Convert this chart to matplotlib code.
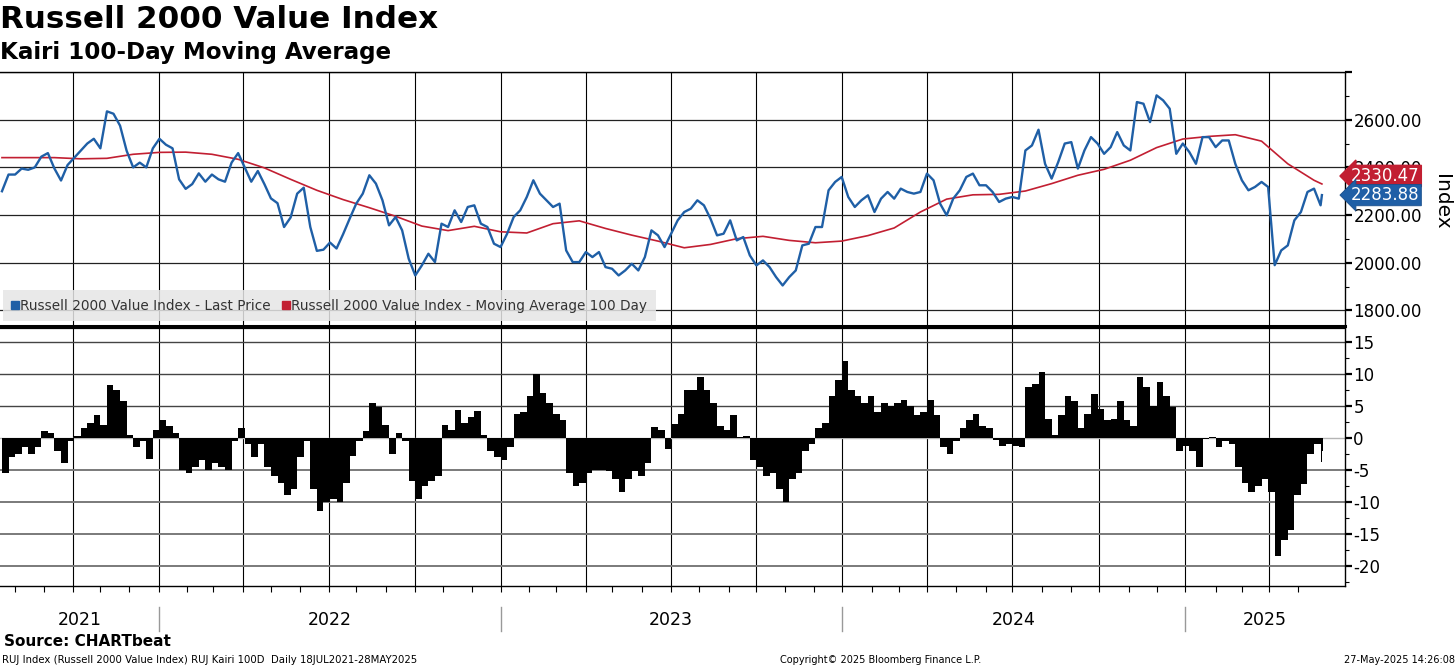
import matplotlib
matplotlib.use("Agg")
import matplotlib.pyplot as plt
import matplotlib.transforms as mtransforms
from matplotlib.lines import Line2D
from matplotlib.ticker import FixedLocator, MultipleLocator, FuncFormatter
import numpy as np
import pandas as pd

plt.rcParams["font.family"] = ["DejaVu Sans"]
plt.rcParams["axes.unicode_minus"] = False

# ---- data (weekly samples, last point = 27 May 2025) ----
start_date = "2021-07-19"
end_date = "2025-05-27"

price_weekly = [
    2300, 2370, 2370, 2395, 2390, 2400, 2445, 2460, 2395, 2345,
    2410, 2440, 2470, 2500, 2520, 2480, 2635, 2625, 2575, 2470,
    2400, 2420, 2400, 2480, 2520, 2495, 2480, 2350, 2310, 2330,
    2375, 2340, 2370, 2350, 2340, 2420, 2460, 2400, 2340, 2385,
    2330, 2270, 2250, 2150, 2190, 2290, 2315, 2150, 2050, 2055,
    2085, 2060, 2120, 2185, 2248, 2290, 2367, 2332, 2262, 2157,
    2192, 2136, 2017, 1947, 1989, 2038, 2003, 2164, 2150, 2220,
    2171, 2234, 2241, 2164, 2150, 2080, 2066, 2122, 2192, 2220,
    2276, 2346, 2290, 2262, 2234, 2248, 2052, 2003, 2003, 2045,
    2024, 2045, 1982, 1975, 1947, 1968, 1996, 1968, 2024, 2136,
    2115, 2066, 2122, 2178, 2213, 2227, 2262, 2241, 2185, 2115,
    2122, 2178, 2094, 2108, 2031, 1989, 2010, 1982, 1940, 1905,
    1940, 1968, 2073, 2080, 2150, 2150, 2304, 2339, 2360, 2276,
    2234, 2262, 2283, 2213, 2269, 2297, 2269, 2311, 2297, 2290,
    2297, 2374, 2346, 2248, 2199, 2269, 2304, 2360, 2374, 2325,
    2325, 2297, 2255, 2269, 2276, 2269, 2471, 2492, 2558, 2415,
    2353, 2422, 2500, 2506, 2395, 2471, 2527, 2500, 2457, 2485,
    2548, 2492, 2471, 2674, 2667, 2590, 2702, 2681, 2646, 2457,
    2500, 2464, 2415, 2527, 2527, 2485, 2513, 2513, 2415, 2346,
    2304, 2318, 2339, 2318, 1990, 2052, 2073, 2178, 2213, 2297,
    2311, 2241,
]
price_last = 2283.88

# 100-day moving average, sampled every 4 weeks
ma_4weekly = [
    2441, 2441, 2441, 2436, 2438, 2455, 2463, 2464, 2455, 2434, 2398, 2350, 2304,
    2265, 2231, 2195, 2154, 2135, 2153, 2130, 2125, 2164, 2176, 2144, 2116, 2091,
    2063, 2077, 2101, 2111, 2094, 2084, 2091, 2114, 2146, 2213, 2267, 2285, 2287,
    2301, 2332, 2367, 2392, 2430, 2483, 2519, 2530, 2537, 2510, 2415, 2346,
]
ma_last = 2330.47

# Kairi 100D (% distance of price from its 100-day average), weekly
kairi_weekly = [
    -5.5, -3, -2.5, -1.5, -2.5, -1.5, 1, 0.8, -2, -4,
    -0.5, 0.3, 1.5, 2.3, 3.5, 2, 8.3, 7.5, 5.8, 0.5,
    -1.5, -0.5, -3.3, 1.2, 2.8, 1.8, 0.8, -5, -5.5, -4.5,
    -3.5, -5, -4, -4.5, -5, -0.5, 1.5, -1, -3, -1,
    -4.5, -6, -7, -9, -8, -3, -0.5, -8, -11.5, -10,
    -9.5, -10, -7, -2.8, -0.5, 1, 5.5, 4.8, 2, -2.5,
    0.8, -0.5, -6.7, -9.5, -7.5, -6.8, -6, 2, 1.2, 4.3,
    2.3, 3.3, 4.2, 0.5, -2, -3, -3.5, -1.5, 3.8, 4,
    6.5, 10, 7, 5.5, 3.7, 2.8, -5.5, -7.5, -7, -5.5,
    -5, -5, -5.2, -6.5, -8.5, -6.5, -5.2, -6, -4, 1.7,
    1.2, -1.8, 2.2, 3.8, 7.5, 7.5, 9.5, 7.5, 5.5, 1.8,
    1.2, 3.5, 0.2, 0.3, -3.5, -4.5, -6, -5.5, -8, -10,
    -6.5, -5.5, -2, -1, 1.5, 2.3, 6.5, 9, 12, 7.5,
    6.5, 5.5, 6.5, 4, 5.5, 5, 5.5, 6, 5, 3.5,
    4, 6, 3.5, -1.5, -2.5, -0.5, 1.5, 2.8, 3.7, 1.8,
    1.5, -0.3, -1.3, -1, -1.2, -1.5, 8, 8.5, 10.3, 3,
    0.5, 3.5, 6.5, 5.8, 1.5, 3.7, 6.8, 4.5, 2.8, 3,
    5.8, 2.8, 1.8, 9.5, 8, 5, 8.8, 6.5, 4.8, -2,
    -1.2, -2, -4.5, -0.2, 0.2, -1.5, -0.5, -1, -4.5, -7,
    -8.5, -7.5, -6.5, -8.5, -18.5, -16, -14.5, -9, -7.3, -2.5,
    -1, -3.8,
]
kairi_last = -2.0

price_ticks = [1800, 2000, 2200, 2400, 2600, 2800]
kairi_ticks = [-20, -15, -10, -5, 0, 5, 10, 15]
years = ["2021", "2022", "2023", "2024", "2025"]

BLUE = "#1f5fa6"
RED = "#c21f32"

# ---- x axis in trading-day positions ----
bdays = pd.bdate_range(start_date, end_date)
n = len(bdays)
pos_weekly = np.append(np.arange(0, n, 5), n - 1)
pos_4weekly = np.append(np.arange(0, n, 20), n - 1)
price = np.append(price_weekly, price_last)
ma = np.append(ma_4weekly, ma_last)
kairi = np.append(kairi_weekly, kairi_last)
bar_w = np.append(np.diff(pos_weekly), 1)

quarters = bdays.searchsorted(pd.date_range("2021-10-01", "2025-04-01", freq="QS"))
months = bdays.searchsorted(pd.date_range("2021-08-01", "2025-05-01", freq="MS"))
year_starts = bdays.searchsorted(pd.to_datetime(["2022-01-01", "2023-01-01",
                                                 "2024-01-01", "2025-01-01"]))
xlim = (-1.5, 1023.6)

W, H = 1456, 668
fig = plt.figure(figsize=(W / 100, H / 100), dpi=100)


def px_axes(left, top, right, bottom):
    return fig.add_axes([left / W, 1 - bottom / H, (right - left) / W, (bottom - top) / H])


ax1 = px_axes(0, 72, 1345, 326)
ax2 = px_axes(0, 328, 1345, 586)

for ax in (ax1, ax2):
    ax.set_xlim(*xlim)
    ax.spines["left"].set_visible(False)
    ax.spines["right"].set_linewidth(1.0)
    ax.yaxis.tick_right()
    ax.tick_params(axis="y", which="major", direction="out", length=5, width=1.6,
                   labelsize=12, pad=1)
    ax.tick_params(axis="y", which="minor", direction="out", length=3, width=0.8)
    ax.xaxis.set_major_locator(FixedLocator(quarters))
    ax.grid(axis="x", color="black", lw=0.8)
    ax.set_axisbelow(True)

# ---- upper panel: price and moving average ----
ax1.set_ylim(1735, 2800)
ax1.yaxis.set_major_locator(FixedLocator(price_ticks))
ax1.yaxis.set_minor_locator(MultipleLocator(100))
ax1.yaxis.set_major_formatter(FuncFormatter(lambda v, p: f"{v:.2f}" if v < 2800 else ""))
ax1.grid(axis="y", color="#222222", lw=0.9)
ax1.tick_params(axis="x", length=0, labelbottom=False)
ax1.spines["bottom"].set_linewidth(2.2)
ax1.spines["top"].set_linewidth(1.0)

ax1.plot(pos_4weekly, ma, color=RED, lw=1.2, zorder=3)
ax1.plot(pos_weekly, price, color=BLUE, lw=1.7, zorder=4)

ax1.text(1.072, 0.49, "Index", transform=ax1.transAxes, rotation=-90,
         ha="center", va="center", fontsize=14.5)

# last-value tags; the red one sits just above the blue one
tag_tr = mtransforms.blended_transform_factory(ax1.transAxes, ax1.transData)
ax1.text(1.0045, price_last + 80, f"{ma_last:.2f}", transform=tag_tr, color="white",
         fontsize=12, va="center", ha="left", zorder=6, clip_on=False,
         bbox=dict(boxstyle="larrow,pad=0.1", fc=RED, ec=RED))
ax1.text(1.0045, price_last, f"{price_last:.2f}", transform=tag_tr, color="white",
         fontsize=12, va="center", ha="left", zorder=7, clip_on=False,
         bbox=dict(boxstyle="larrow,pad=0.1", fc=BLUE, ec="#1a4f8c", lw=0.6))

handles = [Line2D([], [], ls="none", marker="s", ms=6, color=BLUE),
           Line2D([], [], ls="none", marker="s", ms=6, color=RED)]
leg = ax1.legend(handles,
                 ["Russell 2000 Value Index - Last Price",
                  "Russell 2000 Value Index - Moving Average 100 Day"],
                 loc="lower left", bbox_to_anchor=(0.0, 0.01), ncol=2, fontsize=9.8,
                 frameon=True, fancybox=False, handlelength=0.6, handletextpad=0.1,
                 columnspacing=0.8, borderpad=0.6, borderaxespad=0.2)
leg.get_frame().set_facecolor("#e6e6e6")
leg.get_frame().set_edgecolor("none")
leg.get_frame().set_alpha(0.85)
for t in leg.get_texts():
    t.set_color("#333333")

# ---- lower panel: Kairi bars ----
ax2.set_ylim(-23.2, 17.2)
ax2.yaxis.set_major_locator(FixedLocator(kairi_ticks))
ax2.yaxis.set_minor_locator(MultipleLocator(2.5))
ax2.yaxis.set_major_formatter(FuncFormatter(lambda v, p: f"{v:.0f}"))
ax2.grid(axis="y", color="#444444", lw=1.0)
for v, gl in zip(kairi_ticks, ax2.get_ygridlines()):
    if v == 0:
        gl.set_color("#b5b5b5")
    elif v < 0:
        gl.set_color("#7a7a7a")
        gl.set_linewidth(1.4)
ax2.spines["top"].set_linewidth(1.6)
ax2.spines["bottom"].set_linewidth(1.0)
ax2.xaxis.set_minor_locator(FixedLocator(months))
ax2.tick_params(axis="x", which="both", direction="out", length=4, width=0.8,
                labelbottom=False)

ax2.bar(pos_weekly, kairi, width=bar_w, align="edge", color="black", lw=0, zorder=3)

# ---- year labels and separators ----
xtr = mtransforms.blended_transform_factory(ax2.transData, ax2.transAxes)
edges = np.concatenate([[xlim[0]], year_starts, [xlim[1]]])
for i, yr in enumerate(years):
    ax2.text((edges[i] + edges[i + 1]) / 2, -0.132, yr, transform=xtr,
             ha="center", va="center", fontsize=12.5, clip_on=False)
for xs in year_starts:
    ax2.add_line(Line2D([xs, xs], [-0.081, -0.174], transform=xtr, color="#999999",
                        lw=1.0, clip_on=False))

# ---- titles and footer ----
fig.text(0.5 / W, 1 - 20 / H, "Russell 2000 Value Index", fontsize=22.3, fontweight="bold",
         va="center", ha="left")
fig.text(0.5 / W, 1 - 52 / H, "Kairi 100-Day Moving Average", fontsize=16.6,
         fontweight="bold", va="center", ha="left")
fig.text(4 / W, 1 - 642 / H, "Source: CHARTbeat", fontsize=11, fontweight="bold",
         va="center", ha="left")
fig.text(2 / W, 1 - 660 / H,
         "RUJ Index (Russell 2000 Value Index) RUJ Kairi 100D  Daily 18JUL2021-28MAY2025",
         fontsize=7.3, va="center", ha="left")
fig.text(881 / W, 1 - 660 / H, "Copyright\u00a9 2025 Bloomberg Finance L.P.",
         fontsize=7, va="center", ha="center")
fig.text(1 - 1 / W, 1 - 660 / H, "27-May-2025 14:26:08", fontsize=7,
         va="center", ha="right")

fig.savefig("out.png", dpi=100)
